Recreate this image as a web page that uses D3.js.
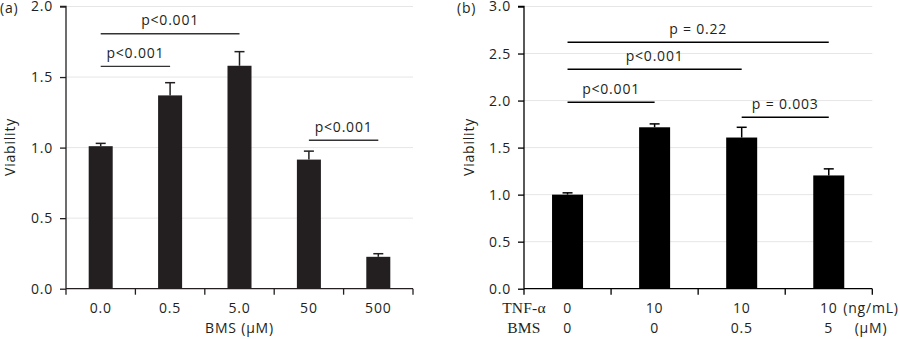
<!DOCTYPE html>
<html>
<head>
<meta charset="utf-8">
<script src="https://cdn.jsdelivr.net/npm/d3@7"></script>
<style>
  body { margin: 0; background: #fff; }
  text { font-family: "Open Sans", sans-serif; font-size: 14px; letter-spacing: 0.8px; fill: #231f20; }
  .serif { font-family: "Liberation Serif", "DejaVu Serif", serif; letter-spacing: 0.2px; font-size: 15.5px; }
</style>
</head>
<body>
<div id="chart"></div>
<script>
// panel (a) data
var doseLabels = ["0.0", "0.5", "5.0", "50", "500"];
var doseMeans = [1.01, 1.37, 1.58, 0.915, 0.226];
var doseErrors = [0.02, 0.09, 0.10, 0.06, 0.022];
var doseTicks = [0, 0.5, 1.0, 1.5, 2.0];
var doseSigPairs = [[0, 1], [0, 2], [3, 4]];
var doseSigLevels = [1.575, 1.807, 1.052];
var doseSigText = ["p<0.001", "p<0.001", "p<0.001"];

// panel (b) data
var tnfLabels = ["0", "10", "10", "10"];
var bmsLabels = ["0", "0", "0.5", "5"];
var tnfMeans = [1.0, 1.716, 1.607, 1.204];
var tnfErrors = [0.019, 0.036, 0.109, 0.07];
var tnfTicks = [0, 0.5, 1.0, 1.5, 2.0, 2.5, 3.0];
var tnfSigPairs = [[0, 1], [0, 2], [0, 3], [2, 3]];
var tnfSigLevels = [1.982, 2.332, 2.619, 1.823];
var tnfSigText = ["p<0.001", "p<0.001", "p = 0.22", "p = 0.003"];

var svg = d3.select("#chart").append("svg")
    .attr("width", 900)
    .attr("height", 339);

function drawPanel(opt) {
    var idx = d3.range(opt.means.length);
    var x = d3.scaleBand()
        .domain(idx)
        .range([opt.left, opt.right])
        .paddingInner(opt.pad)
        .paddingOuter(opt.pad / 2);
    var y = d3.scaleLinear()
        .domain([0, opt.ymax])
        .range([288.7, 6.5]);

    var g = svg.append("g");

    // gridlines
    g.selectAll(".grid")
        .data(opt.ticks.filter(function (d) { return d > 0; }))
        .enter().append("line")
        .attr("x1", opt.left).attr("x2", opt.right)
        .attr("y1", function (d) { return y(d); })
        .attr("y2", function (d) { return y(d); })
        .attr("stroke", "#e6e6e6")
        .attr("stroke-width", 1);

    // bars
    g.selectAll(".bar")
        .data(idx)
        .enter().append("rect")
        .attr("x", function (d) { return x(d); })
        .attr("width", x.bandwidth())
        .attr("y", function (d) { return y(opt.means[d]); })
        .attr("height", function (d) { return y(0) - y(opt.means[d]); })
        .attr("fill", opt.color);

    // error bars (upper only)
    idx.forEach(function (d) {
        var cx = x(d) + x.bandwidth() / 2;
        var top = y(opt.means[d] + opt.errors[d]);
        g.append("line")
            .attr("x1", cx).attr("x2", cx)
            .attr("y1", y(opt.means[d])).attr("y2", top)
            .attr("stroke", opt.color).attr("stroke-width", 1.5);
        g.append("line")
            .attr("x1", cx - 5).attr("x2", cx + 5)
            .attr("y1", top).attr("y2", top)
            .attr("stroke", opt.color).attr("stroke-width", 1.5);
    });

    // y axis
    var yAxis = d3.axisLeft(y)
        .tickValues(opt.ticks)
        .tickFormat(d3.format(".1f"))
        .tickSize(6)
        .tickPadding(7);
    var yg = g.append("g")
        .attr("transform", "translate(" + opt.left + ",0)")
        .call(yAxis);
    yg.select(".domain").attr("d", "M-6," + y(opt.ymax) + "H0V" + y(0)).attr("stroke", opt.color).attr("stroke-width", 1.3);
    yg.selectAll(".tick line").attr("stroke", opt.color).attr("stroke-width", 1.3);
    yg.selectAll("text").attr("font-family", null).attr("font-size", null).attr("fill", "#231f20");

    // x axis: boundary ticks
    var xg = g.append("g");
    xg.append("line")
        .attr("x1", opt.left).attr("x2", opt.right)
        .attr("y1", y(0)).attr("y2", y(0))
        .attr("stroke", opt.color).attr("stroke-width", 1.3);
    d3.range(opt.means.length + 1).forEach(function (i) {
        var bx = opt.left + i * x.step();
        xg.append("line")
            .attr("x1", bx).attr("x2", bx)
            .attr("y1", y(0)).attr("y2", y(0) + 6)
            .attr("stroke", opt.color).attr("stroke-width", 1.3);
    });

    // significance brackets
    opt.sigPairs.forEach(function (p, i) {
        var x1 = x(p[0]) + x.bandwidth() / 2;
        var x2 = x(p[1]) + x.bandwidth() / 2;
        var ly = y(opt.sigLevels[i]);
        g.append("line")
            .attr("x1", x1).attr("x2", x2)
            .attr("y1", ly).attr("y2", ly)
            .attr("stroke", opt.sigColor).attr("stroke-width", opt.sigWidth);
        g.append("text")
            .attr("x", (x1 + x2) / 2)
            .attr("y", ly - 8.5)
            .attr("text-anchor", "middle")
            .text(opt.sigText[i]);
    });

    // y label
    g.append("text")
        .attr("transform", "translate(" + opt.ylabelX + ",147) rotate(-90)")
        .attr("text-anchor", "middle")
        .text("Viability");

    g.append("text")
        .attr("x", opt.tagX).attr("y", 13)
        .text(opt.tag);

    return { x: x, y: y, g: g };
}

// (a)
var pa = drawPanel({
    left: 66, right: 413, ymax: 2.0, pad: 0.654,
    means: doseMeans, errors: doseErrors, ticks: doseTicks,
    sigPairs: doseSigPairs, sigLevels: doseSigLevels, sigText: doseSigText,
    color: "#231f20", sigColor: "#333", sigWidth: 1.3,
    ylabelX: 15, tag: "(a)", tagX: 0
});
var xAxisA = d3.axisBottom(pa.x)
    .tickSize(0)
    .tickPadding(14)
    .tickFormat(function (d) { return doseLabels[d]; });
var xa = pa.g.append("g")
    .attr("transform", "translate(0," + pa.y(0) + ")")
    .call(xAxisA);
xa.select(".domain").remove();
xa.selectAll("text").attr("font-family", null).attr("font-size", null).attr("fill", "#231f20");
pa.g.append("text")
    .attr("x", 239.5).attr("y", 333)
    .attr("text-anchor", "middle")
    .text("BMS (\u03bcM)");

// (b)
var pb = drawPanel({
    left: 524, right: 872.3, ymax: 3.0, pad: 0.644,
    means: tnfMeans, errors: tnfErrors, ticks: tnfTicks,
    sigPairs: tnfSigPairs, sigLevels: tnfSigLevels, sigText: tnfSigText,
    color: "#000", sigColor: "#000", sigWidth: 1.5,
    ylabelX: 474, tag: "(b)", tagX: 457
});
var xAxisB1 = d3.axisBottom(pb.x)
    .tickSize(0)
    .tickPadding(14)
    .tickFormat(function (d) { return tnfLabels[d]; });
var xb1 = pb.g.append("g")
    .attr("transform", "translate(0," + pb.y(0) + ")")
    .call(xAxisB1);
var xAxisB2 = d3.axisBottom(pb.x)
    .tickSize(0)
    .tickPadding(34)
    .tickFormat(function (d) { return bmsLabels[d]; });
var xb2 = pb.g.append("g")
    .attr("transform", "translate(0," + pb.y(0) + ")")
    .call(xAxisB2);
[xb1, xb2].forEach(function (a) {
    a.select(".domain").remove();
    a.selectAll("text").attr("font-family", null).attr("font-size", null).attr("fill", "#231f20");
});

pb.g.append("text").attr("class", "serif")
    .attr("x", 524).attr("y", 313).attr("text-anchor", "middle").text("TNF-\u03b1");
pb.g.append("text").attr("class", "serif")
    .attr("x", 524).attr("y", 333).attr("text-anchor", "middle").text("BMS");
pb.g.append("text")
    .attr("x", 871).attr("y", 313).attr("text-anchor", "middle").text("(ng/mL)");
pb.g.append("text")
    .attr("x", 871).attr("y", 333).attr("text-anchor", "middle").text("(\u03bcM)");
</script>
</body>
</html>
